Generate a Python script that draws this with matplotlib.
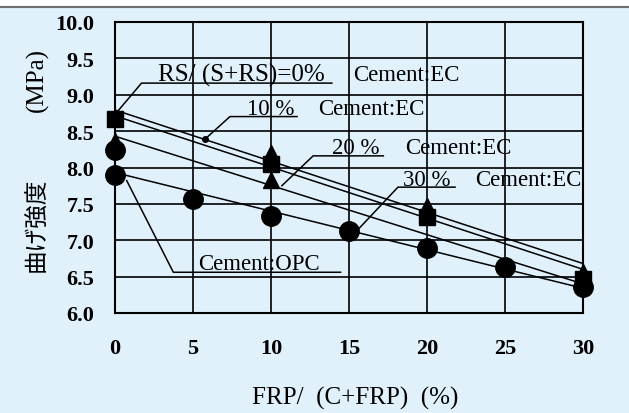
import numpy as np
from matplotlib import pyplot as plt
from matplotlib.patches import Rectangle
from matplotlib.lines import Line2D

# marker data
sq_x = [0, 10, 20, 30]
sq_y = [8.67, 8.05, 7.32, 6.47]
tri_x = [0, 10, 10, 20, 30]
tri_y = [8.36, 8.20, 7.83, 7.47, 6.57]
circ_x = [0, 0, 5, 10, 15, 20, 25, 30]
circ_y = [8.24, 7.90, 7.57, 7.34, 7.13, 6.90, 6.63, 6.36]

# fitted lines (start at x=0, end at x=30)
fit_x = [0, 30]
fit_lines = [[8.79, 6.68], [8.71, 6.60], [8.43, 6.40], [7.93, 6.34]]

# leader lines and labels: (leader x, leader y, pct text, pct x, name x, baseline y)
labels = [
    ([0.2, 1.7, 13.9], [8.78, 9.16, 9.16], 'RS/ (S+RS)=0%', 2.76, 15.26, 9.20),
    ([5.77, 7.37, 11.67], [8.39, 8.70, 8.70], '10 %', 8.46, 13.0, 8.74),
    ([10.7, 12.7, 17.2], [7.75, 8.16, 8.16], '20 %', 13.9, 18.6, 8.20),
    ([15.5, 18.14, 21.8], [7.13, 7.73, 7.73], '30 %', 18.46, 23.1, 7.76),
]
opc_x = [0.75, 3.74, 14.46]
opc_y = [7.82, 6.56, 6.56]

bg = '#E0F1FB'
fam = ['Liberation Serif', 'Noto Sans CJK JP']

fig = plt.figure(figsize=(6.29, 4.14), dpi=100, facecolor=bg)
fig.patches.append(Rectangle((0, 1 - 7.5 / 414), 1, 7.5 / 414, transform=fig.transFigure,
                             facecolor='white', edgecolor='none', zorder=0))
fig.lines.append(Line2D([0, 1], [1 - 7.5 / 414] * 2, transform=fig.transFigure,
                        color='#707070', lw=1.5))

ax = fig.add_axes([115 / 629, 100 / 414, 468 / 629, 291 / 414])
ax.set_facecolor(bg)
ax.set_xlim(0, 30)
ax.set_ylim(6.0, 10.0)
ax.set_xticks(np.arange(0, 31, 5))
ax.set_yticks(np.arange(6.0, 10.01, 0.5))
ax.set_yticklabels([f'{v:.1f}' for v in np.arange(6.0, 10.01, 0.5)])
ax.tick_params(length=0, pad=18, labelsize=16)
ax.tick_params(axis='y', pad=15)
for lab in ax.get_xticklabels() + ax.get_yticklabels():
    lab.set_fontfamily('Liberation Serif')
    lab.set_fontweight('bold')
ax.grid(True, color='black', lw=1.2)
ax.set_axisbelow(True)
for s in ax.spines.values():
    s.set_linewidth(1.5)

for fy in fit_lines:
    ax.plot(fit_x, fy, color='black', lw=1.1, zorder=2)

ax.plot(circ_x, circ_y, 'o', color='black', ms=14, ls='none', zorder=4, clip_on=False)
ax.plot(sq_x, sq_y, 's', color='black', ms=12, ls='none', zorder=4, clip_on=False)
ax.plot(tri_x, tri_y, '^', color='black', ms=12, ls='none', zorder=4, clip_on=False)

tsize = 16.5
for lx, ly, pct, px, nx, by in labels:
    ax.plot(lx, ly, color='black', lw=1.1, zorder=3)
    ax.text(px, by, pct, fontsize=18 if '=' in pct else tsize, family=fam,
            va='baseline', ha='left', zorder=5)
    ax.text(nx, by, 'Cement:EC', fontsize=tsize, family=fam, va='baseline', ha='left', zorder=5)
ax.plot([5.77], [8.39], 'o', color='black', ms=4, zorder=4)
ax.plot(opc_x, opc_y, color='black', lw=1.1, zorder=3)
ax.text(5.3, 6.60, 'Cement:OPC', fontsize=tsize, family=fam, va='baseline', ha='left', zorder=5)

fig.text(355 / 629, 1 - 398 / 414, 'FRP/  (C+FRP)  (%)', fontsize=18, family=fam,
         ha='center', va='center')
fig.text(37 / 629, 1 - 225 / 414, '曲げ強度', fontsize=17, family=fam,
         rotation=90, ha='center', va='center')
fig.text(37 / 629, 1 - 80 / 414, '(MPa)', fontsize=18, family=fam,
         rotation=90, ha='center', va='center')

plt.savefig('out.png', dpi=100, facecolor=bg)
